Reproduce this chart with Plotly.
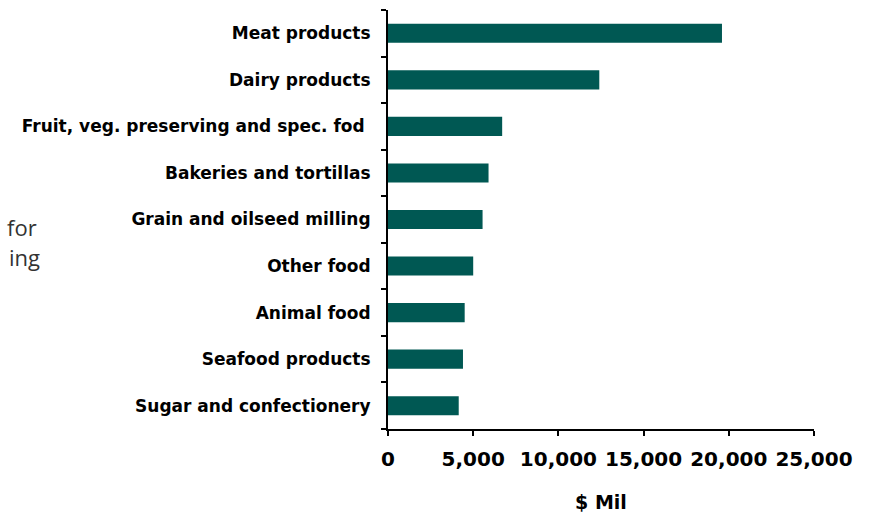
import plotly.graph_objects as go

categories = [
    "Meat products",
    "Dairy products",
    "Fruit, veg. preserving and spec. fod ",
    "Bakeries and tortillas",
    "Grain and oilseed milling",
    "Other food",
    "Animal food",
    "Seafood products",
    "Sugar and confectionery",
]
values = [19600, 12400, 6700, 5900, 5550, 5000, 4500, 4400, 4150]
x_ticks = [0, 5000, 10000, 15000, 20000, 25000]
x_tick_labels = ["0", "5,000", "10,000", "15,000", "20,000", "25,000"]

fig = go.Figure(
    go.Bar(
        y=categories,
        x=values,
        orientation="h",
        marker=dict(color="#005853", line=dict(width=0)),
        width=0.41,
    )
)

fig.update_layout(
    width=869,
    height=513,
    margin=dict(l=388, r=55, t=10, b=84),
    paper_bgcolor="white",
    plot_bgcolor="white",
    showlegend=False,
    font=dict(family="DejaVu Sans", color="black"),
    annotations=[
        dict(text="for", x=39, y=227, xref="paper", yref="paper",
             showarrow=False, xanchor="right", yanchor="middle",
             font=dict(family="Open Sans", size=22, color="#333333")),
        dict(text="ing", x=42, y=257, xref="paper", yref="paper",
             showarrow=False, xanchor="right", yanchor="middle",
             font=dict(family="Open Sans", size=22, color="#333333")),
    ],
)

# convert pixel positions of annotations to paper coords
pw = 869 - 388 - 55
ph = 513 - 10 - 84
for a in fig.layout.annotations:
    a.x = (a.x - 388) / pw
    a.y = (513 - 84 - a.y) / ph

fig.update_yaxes(
    categoryorder="array",
    categoryarray=categories[::-1],
    showline=True,
    linecolor="black",
    linewidth=2,
    ticks="outside",
    ticklen=5,
    tickwidth=2,
    tickcolor="black",
    tickson="boundaries",
    showgrid=False,
    automargin=False,
    tickfont=dict(family="DejaVu Sans", size=17, color="black", weight="bold"),
    ticklabelstandoff=12,
)
fig.update_xaxes(
    range=[0, 25000],
    tickvals=x_ticks,
    ticktext=x_tick_labels,
    showline=True,
    linecolor="black",
    linewidth=2,
    ticks="outside",
    ticklen=5,
    tickwidth=2,
    tickcolor="black",
    showgrid=False,
    zeroline=False,
    automargin=False,
    tickfont=dict(family="DejaVu Sans", size=20, color="black", weight="bold"),
    ticklabelstandoff=6,
    title=dict(text="$ Mil", font=dict(family="DejaVu Sans", size=19, color="black", weight="bold"), standoff=26),
)

fig.write_html("out.html")
